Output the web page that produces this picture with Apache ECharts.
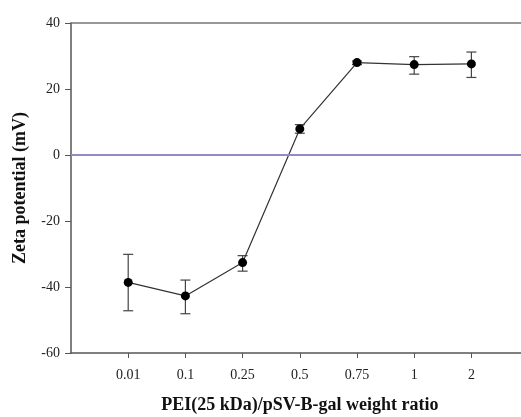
<!DOCTYPE html>
<html>
<head>
<meta charset="utf-8">
<script src="https://cdn.jsdelivr.net/npm/echarts@6/dist/echarts.min.js"></script>
<style>
  html, body { margin: 0; padding: 0; background: #fff; }
  #chart { width: 521px; height: 417px; }
</style>
</head>
<body>
<div id="chart"></div>
<script>
// weight ratios (categories), mean zeta potential and error bar ends
var ratios = ['0.01', '0.1', '0.25', '0.5', '0.75', '1', '2'];
var zeta = [-38.6, -42.7, -32.6, 7.9, 28.0, 27.4, 27.6];
var errLow = [-47.2, -48.1, -35.2, 6.6, 27.4, 24.5, 23.5];
var errHigh = [-30.1, -37.9, -30.5, 9.2, 28.5, 29.8, 31.2];

var font = '"Liberation Serif", "DejaVu Serif", serif';

var positions = ratios.map(function (r, i) { return i + 1; });
var points = zeta.map(function (v, i) { return [positions[i], v]; });
var bars = zeta.map(function (v, i) { return [positions[i], errLow[i], errHigh[i]]; });

var chart = echarts.init(document.getElementById('chart'));
chart.setOption({
    animation: false,
    // plot runs past the right edge of the picture, so don't clamp it
    grid: { left: 71, top: 23, width: 457.6, height: 330, outerBoundsMode: 'none' },
    xAxis: [{
        type: 'value',
        min: 0,
        max: 8,
        interval: 1,
        position: 'bottom',
        axisLine: { onZero: false, lineStyle: { color: '#555', width: 1.5 } },
        axisTick: { show: true, inside: false, length: 5, customValues: positions, lineStyle: { color: '#555' } },
        axisLabel: {
            margin: 15,
            color: '#222',
            fontFamily: font,
            fontSize: 14,
            customValues: positions,
            formatter: function (v) { return ratios[v - 1] || ''; }
        },
        splitLine: { show: false },
        name: 'PEI(25 kDa)/pSV-B-gal weight ratio',
        nameLocation: 'middle',
        nameGap: 43,
        nameTextStyle: { fontFamily: font, fontSize: 18, fontWeight: 'bold', color: '#111' }
    }, {
        type: 'value',
        min: 0,
        max: 8,
        position: 'top',
        axisLine: { show: true, onZero: false, lineStyle: { color: '#777', width: 1.5 } },
        axisTick: { show: false },
        axisLabel: { show: false },
        splitLine: { show: false }
    }],
    yAxis: {
        type: 'value',
        min: -60,
        max: 40,
        interval: 20,
        axisLine: { show: true, onZero: false, lineStyle: { color: '#555', width: 1.5 } },
        axisTick: { show: true, inside: false, length: 6, lineStyle: { color: '#555' } },
        axisLabel: { margin: 11, color: '#222', fontFamily: font, fontSize: 14 },
        splitLine: { show: false },
        name: 'Zeta potential (mV)',
        nameLocation: 'middle',
        nameGap: 42,
        nameTextStyle: { fontFamily: font, fontSize: 18, fontWeight: 'bold', color: '#111' }
    },
    series: [{
        type: 'custom',
        data: bars,
        z: 2,
        renderItem: function (params, api) {
            var x = api.value(0);
            var lo = api.coord([x, api.value(1)]);
            var hi = api.coord([x, api.value(2)]);
            var w = 5;
            var st = { stroke: '#444', lineWidth: 1.2 };
            return {
                type: 'group',
                children: [
                    { type: 'line', shape: { x1: lo[0], y1: lo[1], x2: hi[0], y2: hi[1] }, style: st },
                    { type: 'line', shape: { x1: lo[0] - w, y1: lo[1], x2: lo[0] + w, y2: lo[1] }, style: st },
                    { type: 'line', shape: { x1: hi[0] - w, y1: hi[1], x2: hi[0] + w, y2: hi[1] }, style: st }
                ]
            };
        }
    }, {
        type: 'line',
        data: points,
        z: 3,
        symbol: 'circle',
        symbolSize: 9,
        itemStyle: { color: '#000' },
        lineStyle: { color: '#333', width: 1.2 },
        markLine: {
            silent: true,
            symbol: 'none',
            label: { show: false },
            lineStyle: { color: '#9a87c6', width: 2, type: 'solid' },
            data: [{ yAxis: 0 }]
        }
    }]
});
</script>
</body>
</html>
